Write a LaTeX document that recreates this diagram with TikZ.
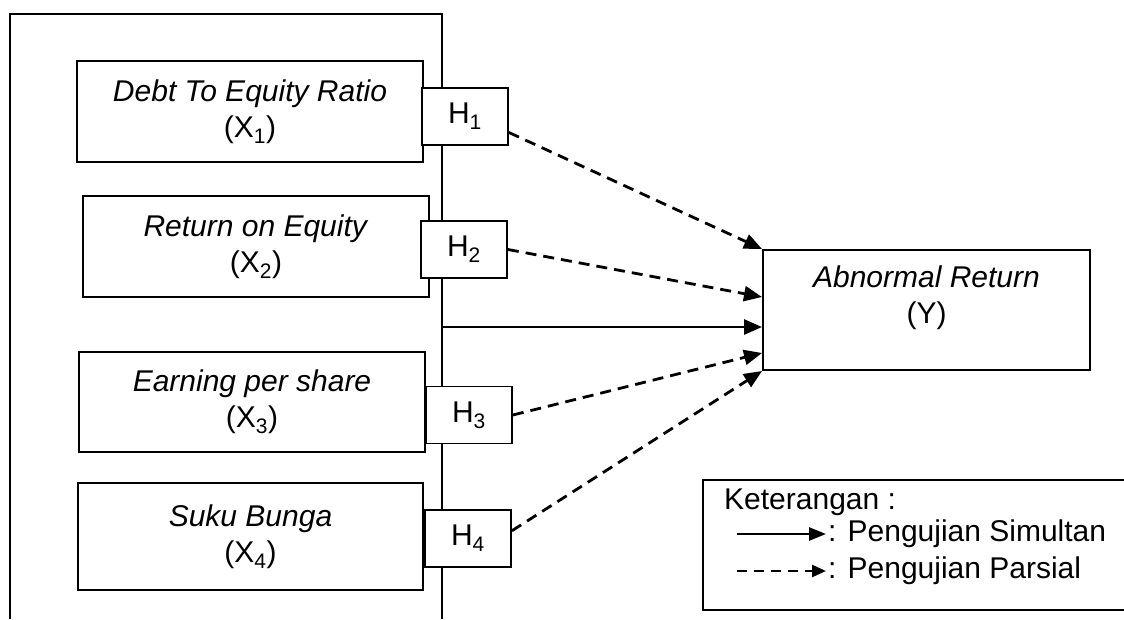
\documentclass[tikz,border=0pt]{standalone}
\usepackage{fontspec}
\setmainfont{Liberation Sans}
\usetikzlibrary{arrows.meta,calc}
\tikzset{
  txt/.style={font=\fontsize{30}{36}\selectfont},
  varbox/.style={txt,draw,line width=2pt,fill=white,inner sep=0pt,align=center},
  hbox/.style={txt,draw,line width=1.8pt,fill=white,inner sep=0pt,minimum width=86pt,minimum height=57pt},
  simultan/.style={->,line width=2.8pt},
  parsial/.style={->,line width=2.8pt,dash pattern=on 11pt off 7pt}
}
\begin{document}
\begin{tikzpicture}[x=1pt,y=-1pt,>={Triangle[length=18pt,width=15pt]}]
\useasboundingbox (0,0) rectangle (1124,619);
\clip (0,0) rectangle (1124,619);
\coordinate (top) at (442,14);
\coordinate (bot) at (442,619);
\draw[line width=2pt] (10,619) |- (top) -- (bot);

\node[varbox,minimum width=346pt,minimum height=101pt] (X1) at (250,111.5) {\textit{Debt To Equity Ratio}\\(X\textsubscript{1})};
\node[varbox,minimum width=346pt,minimum height=101pt] (X2) at (256,246.5) {\textit{Return on Equity}\\(X\textsubscript{2})};
\node[varbox,minimum width=346pt,minimum height=100pt] (X3) at (252,402) {\textit{Earning per share}\\(X\textsubscript{3})};
\node[varbox,minimum width=345pt,minimum height=107pt] (X4) at (250.5,536.5) {\textit{Suku Bunga}\\(X\textsubscript{4})};

\foreach \h/\x/\y in {1/465/116.5,2/464/249.5,3/469/415,4/468/538.5}
  \node[hbox] (H\h) at (\x,\y) {H\textsubscript{\h}};

\node[varbox,minimum width=327pt,minimum height=120pt] (Y) at (926.5,310) {};
\node[txt,align=center] (Ylab) at ($(Y.center)+(0,-12)$) {\textit{Abnormal Return}\\(Y)};

\coordinate (bus) at (442,327);
\draw[simultan] (bus) -- (bus -| Y.west);
\draw[parsial] (H1.-20) -- (Y.north west);
\draw[parsial] (H2.east) -- ($(Y.west)+(0,-13)$);
\draw[parsial] (H3.east) -- ($(Y.south west)+(0,-18)$);
\draw[parsial] (H4.10) -- (Y.south west);

\draw[line width=2pt] (1130,480) -| (703,610) -- (1130,610);
\node[txt,anchor=west,inner sep=0pt] (ket) at (724,502) {Keterangan :};
\node[txt,anchor=west,inner sep=2pt] (simul) at (826,534) {: Pengujian Simultan};
\node[txt,anchor=west,inner sep=2pt] (pars) at (826,571) {: Pengujian Parsial};
\coordinate (simulA) at (737,534);
\coordinate (parsA) at (737,571);
\draw[line width=2.6pt,-{Triangle[length=17pt,width=13pt]}] (simulA) -- (simul.west);
\draw[line width=2.6pt,dash pattern=on 10pt off 7pt,-{Triangle[length=14pt,width=12pt]}] (parsA) -- (pars.west);
\end{tikzpicture}
\end{document}
